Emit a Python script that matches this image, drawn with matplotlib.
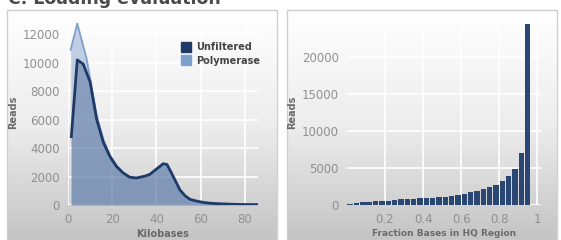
import numpy as np
import matplotlib
matplotlib.use("Agg")
import matplotlib.pyplot as plt
from matplotlib.patches import Rectangle

# Read length distribution (kilobases vs reads)
unf_x = [1.5, 4.2, 6.9, 10, 13, 16, 19, 22, 25, 28, 31, 34.8, 37, 39.4, 43.1, 44.8,
         47, 50.7, 53, 55.2, 58, 61, 64, 67, 70, 73, 76, 79, 82, 85.5]
unf_y = [4800, 10200, 9900, 8650, 6000, 4400, 3400, 2700, 2250, 1950, 1900, 2030, 2150,
         2450, 2900, 2850, 2200, 1050, 650, 400, 280, 190, 130, 100, 80, 60, 45, 35, 30, 25]

pol_x = [1.2, 4.2, 6.2, 8.4, 10, 13, 16, 19, 22, 25, 28, 31, 34.8, 37, 39.4, 42,
         44.8, 47, 50, 53, 55.2, 58, 61, 64, 70, 76, 85.5]
pol_y = [10900, 12750, 11580, 10300, 8900, 6300, 4600, 3500, 2750, 2250, 1950, 1900,
         1980, 2100, 2350, 2700, 2650, 2000, 1200, 500, 250, 120, 70, 50, 30, 20, 15]

# HQ region fraction histogram
hq_bins = np.arange(29) / 30 + 1 / 60
hq_reads = [100, 250, 400, 450, 500, 550, 600, 700, 750, 800, 850, 900, 950, 1000,
            1050, 1100, 1200, 1400, 1550, 1700, 1900, 2100, 2400, 2750, 3300, 3900,
            4800, 7050, 24500]

W, H = 561, 240
fig = plt.figure(figsize=(W / 100, H / 100), dpi=100)
fig.patch.set_facecolor("white")

tick_col = "#909090"
lab_col = "#6a6a6a"

# title is cropped at the top edge in the source image
fig.text(8 / W, 1 - 4 / H, "C. Loading evaluation", fontsize=12.5, fontweight="bold",
         color="#4a4a4a", va="baseline", ha="left")

grad = np.linspace(0, 1, 256).reshape(-1, 1)
cmap = matplotlib.colors.LinearSegmentedColormap.from_list("bg", ["#ffffff", "#ededed", "#c4c4c4"])
for px0 in (7, 287):
    bg = fig.add_axes([px0 / W, 0, 270 / W, 1 - 10 / H], zorder=0)
    bg.imshow(grad, aspect="auto", cmap=cmap, extent=[0, 1, 0, 1])
    bg.set_axis_off()
    fig.patches.append(Rectangle((px0 / W, 0), 270 / W, 1 - 10 / H, transform=fig.transFigure,
                                 fill=False, edgecolor="#d0d0d0", lw=1, zorder=1))


def style(ax):
    ax.set_facecolor("none")
    for s in ax.spines.values():
        s.set_visible(False)
    ax.grid(True, color="white", lw=1.2)
    ax.set_axisbelow(True)
    ax.tick_params(length=0, colors=tick_col, labelsize=8.5, pad=6)


# left: read lengths
ax1 = fig.add_axes([68 / W, 35 / H, 190 / W, 185 / H], zorder=2)
style(ax1)
ax1.fill_between(pol_x, pol_y, color="#9bb2d6", alpha=0.6, lw=0)
ax1.plot(pol_x, pol_y, color="#7f9fcc", lw=1.3)
ax1.fill_between(unf_x, unf_y, color="#3d5c8c", alpha=0.4, lw=0)
ax1.plot(unf_x, unf_y, color="#1f3a66", lw=2)
ax1.set_xlim(0, 86)
ax1.set_ylim(0, 13000)
ax1.set_xticks([0, 20, 40, 60, 80])
ax1.set_yticks(range(0, 12001, 2000))
ax1.set_xlabel("Kilobases", fontsize=7, fontweight="bold", color=lab_col, labelpad=2)
ax1.set_ylabel("Reads", fontsize=7, fontweight="bold", color=lab_col, labelpad=3)
h1 = Rectangle((0, 0), 1, 1, color="#1f3a66")
h2 = Rectangle((0, 0), 1, 1, color="#7f9fcc")
leg = ax1.legend([h1, h2], ["Unfiltered", "Polymerase"], loc="upper left",
                 bbox_to_anchor=(0.55, 0.93), frameon=False, handlelength=1.0,
                 handleheight=1.2, handletextpad=0.5, labelspacing=0.35,
                 prop={"size": 7, "weight": "bold"})
for t in leg.get_texts():
    t.set_color("#444444")

# right: HQ fraction
ax2 = fig.add_axes([347 / W, 35 / H, 194 / W, 185 / H], zorder=2)
style(ax2)
ax2.bar(hq_bins, hq_reads, width=0.85 / 30, color="#2a4672", lw=0)
ax2.set_xlim(0, 1.02)
ax2.set_ylim(0, 25000)
ax2.set_xticks([0.2, 0.4, 0.6, 0.8, 1.0])
ax2.set_xticklabels(["0.2", "0.4", "0.6", "0.8", "1"])
ax2.set_yticks(range(0, 20001, 5000))
ax2.set_xlabel("Fraction Bases in HQ Region", fontsize=6.5, fontweight="bold",
               color=lab_col, labelpad=2)
ax2.set_ylabel("Reads", fontsize=7, fontweight="bold", color=lab_col, labelpad=3)

fig.savefig("out.png", dpi=100)
